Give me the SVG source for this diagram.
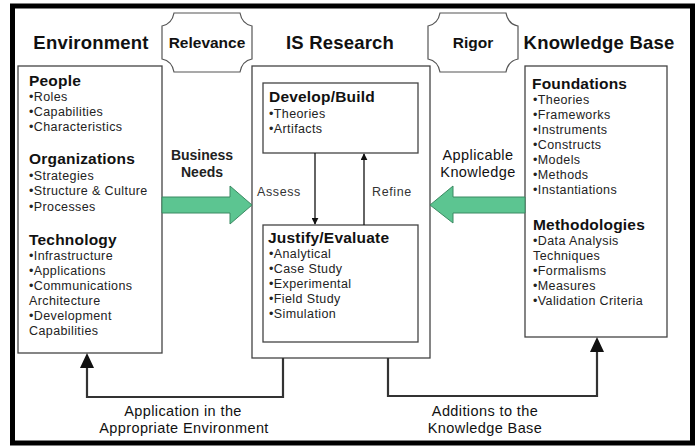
<svg xmlns="http://www.w3.org/2000/svg" width="699" height="447" viewBox="0 0 699 447">
<defs>
<style>
.box{fill:#fff;stroke:#444;stroke-width:1.3}
.oct{fill:#fff;stroke:#555;stroke-width:1.2}
.title{font-family:"Liberation Sans",Arial,sans-serif;font-weight:bold;font-size:18.5px;letter-spacing:0.2px;fill:#111}
.tag{font-family:"Liberation Sans",Arial,sans-serif;font-weight:bold;font-size:15.5px;fill:#111}
.hd{font-family:"Liberation Sans",Arial,sans-serif;font-weight:bold;font-size:15.5px;letter-spacing:0.2px;fill:#111}
.it{font-family:"Liberation Sans",Arial,sans-serif;font-size:12.5px;letter-spacing:0.4px;fill:#222}
.lbl{font-family:"Liberation Sans",Arial,sans-serif;font-size:14.5px;letter-spacing:0.4px;fill:#111}
.lblb{font-family:"Liberation Sans",Arial,sans-serif;font-size:14px;font-weight:bold;fill:#222}
.sm{font-family:"Liberation Sans",Arial,sans-serif;font-size:12.5px;letter-spacing:0.6px;fill:#333}
.conn{fill:none;stroke:#333;stroke-width:2.2}
.green{fill:#5cc591;stroke:#3b8a62;stroke-width:1}
</style>
<marker id="ah2" viewBox="0 0 10 10" refX="9" refY="5" markerWidth="7" markerHeight="7" orient="auto" markerUnits="userSpaceOnUse">
<path d="M0,0 L10,5 L0,10 z" fill="#111"/>
</marker>
</defs>
<rect x="0" y="0" width="699" height="447" fill="#fff"/>
<rect x="12.5" y="6" width="680" height="437" fill="#fff" stroke="#000" stroke-width="5"/>

<g id="title-environment"><text class="title" x="91" y="49" text-anchor="middle">Environment</text></g>
<g id="relevance">
<path class="oct" d="M174,13 L240,13 Q242,24 252,26 L252,59 Q242,61 240,72 L174,72 Q172,61 162,59 L162,26 Q172,24 174,13 Z"/>
<text class="tag" x="207" y="48" text-anchor="middle">Relevance</text>
</g>
<g id="title-is-research"><text class="title" x="340" y="49" text-anchor="middle">IS Research</text></g>
<g id="rigor">
<path class="oct" d="M440,13 L506,13 Q508,24 518,26 L518,59 Q508,61 506,72 L440,72 Q438,61 428,59 L428,26 Q438,24 440,13 Z"/>
<text class="tag" x="473" y="48" text-anchor="middle">Rigor</text>
</g>
<g id="title-knowledge-base"><text class="title" x="599" y="49" text-anchor="middle">Knowledge Base</text></g>

<g id="environment">
<rect class="box" x="18" y="66" width="144" height="287"/>
<text class="hd" x="29" y="86">People</text>
<text class="it" x="29" y="101">•Roles</text>
<text class="it" x="29" y="116">•Capabilities</text>
<text class="it" x="29" y="131">•Characteristics</text>
<text class="hd" x="29" y="164">Organizations</text>
<text class="it" x="29" y="180">•Strategies</text>
<text class="it" x="29" y="195">•Structure &amp; Culture</text>
<text class="it" x="29" y="211">•Processes</text>
<text class="hd" x="29" y="245">Technology</text>
<text class="it" x="29" y="260">•Infrastructure</text>
<text class="it" x="29" y="275">•Applications</text>
<text class="it" x="29" y="290">•Communications</text>
<text class="it" x="29" y="305">Architecture</text>
<text class="it" x="29" y="320">•Development</text>
<text class="it" x="29" y="335">Capabilities</text>
</g>

<g id="is-research">
<rect class="box" x="252" y="66" width="178" height="292"/>
</g>
<g id="develop-build">
<rect class="box" x="263" y="83" width="155" height="70"/>
<text class="hd" x="269" y="102">Develop/Build</text>
<text class="it" x="269" y="118">•Theories</text>
<text class="it" x="269" y="133">•Artifacts</text>
</g>
<g id="justify-evaluate">
<rect class="box" x="263" y="225" width="155" height="117"/>
<text class="hd" x="268" y="243">Justify/Evaluate</text>
<text class="it" x="269" y="258">•Analytical</text>
<text class="it" x="269" y="273">•Case Study</text>
<text class="it" x="269" y="288">•Experimental</text>
<text class="it" x="269" y="303">•Field Study</text>
<text class="it" x="269" y="318">•Simulation</text>
</g>

<g id="knowledge-base">
<rect class="box" x="525" y="66" width="142" height="271"/>
<text class="hd" x="532" y="89">Foundations</text>
<text class="it" x="533" y="104">•Theories</text>
<text class="it" x="533" y="119">•Frameworks</text>
<text class="it" x="533" y="134">•Instruments</text>
<text class="it" x="533" y="149">•Constructs</text>
<text class="it" x="533" y="164">•Models</text>
<text class="it" x="533" y="179">•Methods</text>
<text class="it" x="533" y="194">•Instantiations</text>
<text class="hd" x="533" y="230">Methodologies</text>
<text class="it" x="533" y="245">•Data Analysis</text>
<text class="it" x="533" y="260">Techniques</text>
<text class="it" x="533" y="275">•Formalisms</text>
<text class="it" x="533" y="290">•Measures</text>
<text class="it" x="533" y="305">•Validation Criteria</text>
</g>

<g id="connectors">
<path class="green" d="M162,197 L230,197 L230,186 L252,205 L230,224 L230,213 L162,213 Z"/>
<path class="green" d="M525,197 L453,197 L453,186 L430,205 L453,223 L453,213 L525,213 Z"/>
<line x1="315" y1="153" x2="315" y2="224" stroke="#111" stroke-width="1.3" marker-end="url(#ah2)"/>
<line x1="364" y1="225" x2="364" y2="154" stroke="#111" stroke-width="1.3" marker-end="url(#ah2)"/>
<polyline class="conn" points="283,358 283,397 87,397 87,360"/>
<path d="M80,368 L87,353 L94,368 Z" fill="#111"/>
<polyline class="conn" points="388,358 388,396 597,396 597,344"/>
<path d="M590,352 L597,337 L604,352 Z" fill="#111"/>
<text class="lblb" x="202" y="160" text-anchor="middle">Business</text>
<text class="lblb" x="202" y="177" text-anchor="middle">Needs</text>
<text class="lbl" x="478" y="160" text-anchor="middle">Applicable</text>
<text class="lbl" x="478" y="177" text-anchor="middle">Knowledge</text>
<text class="sm" x="257" y="196">Assess</text>
<text class="sm" x="372" y="196">Refine</text>
<text class="lbl" x="183" y="416" text-anchor="middle">Application in the</text>
<text class="lbl" x="184" y="433" text-anchor="middle">Appropriate Environment</text>
<text class="lbl" x="485" y="416" text-anchor="middle">Additions to the</text>
<text class="lbl" x="485" y="433" text-anchor="middle">Knowledge Base</text>
</g>
</svg>
